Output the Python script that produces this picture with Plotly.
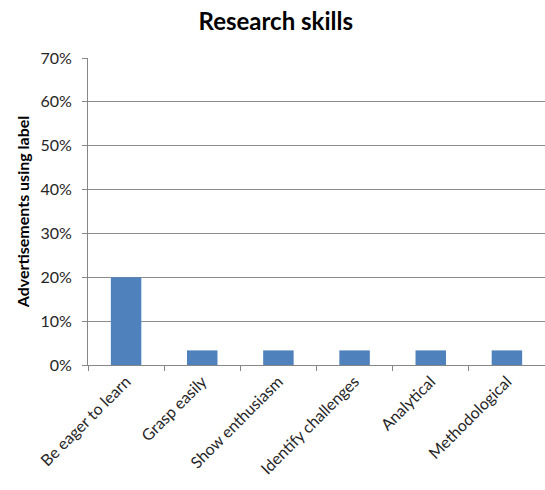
import plotly.graph_objects as go

# Share of advertisements using each research-skill label
skills = ["Be eager to learn", "Grasp easily", "Show enthusiasm",
          "Identify challenges", "Analytical", "Methodological"]
share = [0.20, 0.0333, 0.0333, 0.0333, 0.0333, 0.0333]

y_ticks = [0, 0.1, 0.2, 0.3, 0.4, 0.5, 0.6, 0.7]
y_tick_text = ["0%", "10%", "20%", "30%", "40%", "50%", "60%", "70%"]

font_family = "Lato, 'Open Sans', sans-serif"

fig = go.Figure(
    go.Bar(
        x=skills,
        y=share,
        marker=dict(color="#4f81bd", line=dict(width=0)),
        hovertemplate="%{x}: %{y:.1%}<extra></extra>",
    )
)

fig.update_layout(
    width=545,
    height=490,
    margin=dict(l=88, r=0, t=58, b=125),
    paper_bgcolor="white",
    plot_bgcolor="white",
    bargap=0.6,
    showlegend=False,
    font=dict(family=font_family, size=16, color="#262626"),
    title=dict(
        text="<b>Research skills</b>",
        x=0.506,
        xref="container",
        xanchor="center",
        y=0.955,
        yref="container",
        yanchor="middle",
        font=dict(family=font_family, size=24, color="black"),
    ),
)

fig.update_xaxes(
    type="category",
    tickangle=-45,
    ticks="outside",
    tickson="boundaries",
    ticklen=5,
    tickcolor="#868686",
    showline=True,
    linecolor="#868686",
    linewidth=1,
    showgrid=False,
    tickfont=dict(size=16, color="#262626"),
)

fig.update_yaxes(
    range=[0, 0.7],
    tickvals=y_ticks,
    ticktext=y_tick_text,
    ticks="outside",
    ticklen=5,
    tickcolor="#868686",
    ticklabelstandoff=7,
    showline=True,
    linecolor="#868686",
    linewidth=1,
    showgrid=True,
    gridcolor="#8c8c8c",
    gridwidth=1,
    zeroline=False,
    tickfont=dict(size=16, color="#262626"),
    title=dict(
        text="<b>Advertisements using label</b>",
        font=dict(family=font_family, size=16, color="black"),
        standoff=6,
    ),
)

fig.write_html("out.html")
